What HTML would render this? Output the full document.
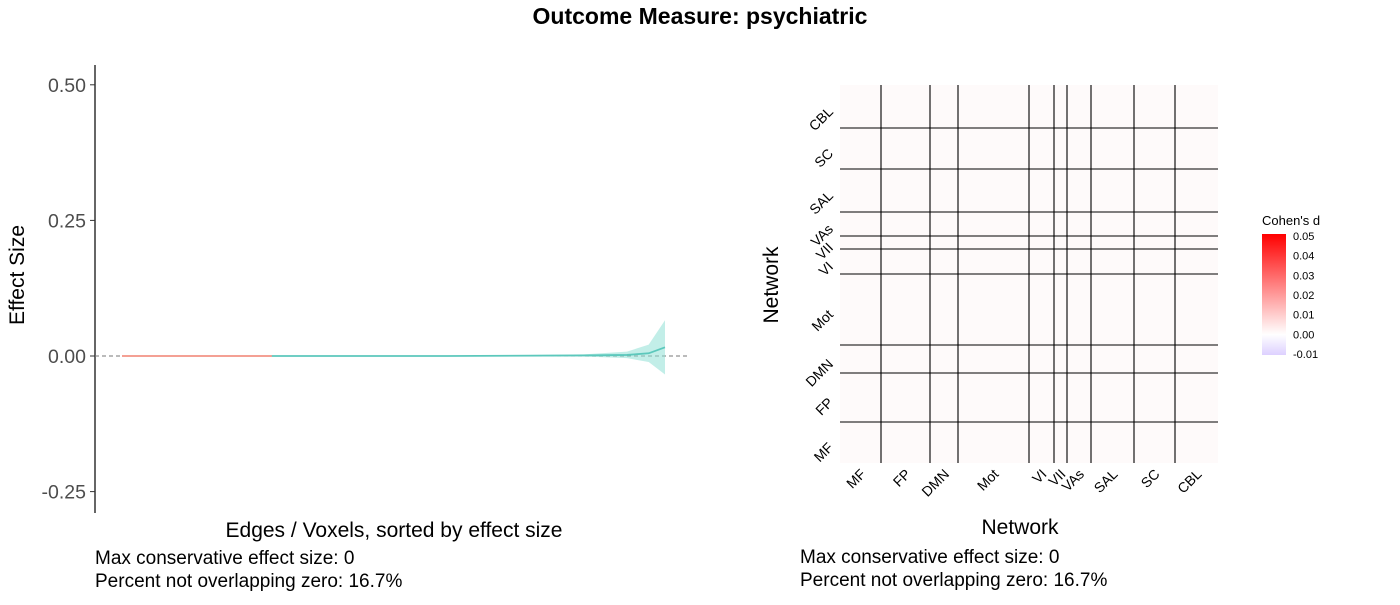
<!DOCTYPE html>
<html><head><meta charset="utf-8"><style>
body{margin:0;background:#fff;width:1400px;height:600px;overflow:hidden;font-family:"Liberation Sans",sans-serif}
svg text{font-family:"Liberation Sans",sans-serif}
</style></head><body>
<svg id="c" width="1400" height="600">
<text x="700" y="24" text-anchor="middle" font-size="23" font-weight="bold">Outcome Measure: psychiatric</text>
<g id="left"></g>
<g id="right"></g>
</svg>
<script>
// ---- left plot data ----
const yTicks=[0.5,0.25,0,-0.25];
const yTickLabels=["0.50","0.25","0.00","-0.25"];
const redFrac=[0,0.276];
const curveX=[0.276,0.6,0.85,0.93,0.97,1.0];
const curveY=[0,0,0.001,0.002,0.005,0.016];
const ciHalf=[0,0,0.002,0.006,0.016,0.05];
// ---- heatmap data ----
const networks=["MF","FP","DMN","Mot","VI","VII","VAs","SAL","SC","CBL"];
const netSizes=[41,49,28,71,25,13,24,43,41,43];
const legendTicks=[0.05,0.04,0.03,0.02,0.01,0.00,-0.01];

(function(){
const NS="http://www.w3.org/2000/svg";
function mk(p,t,a,txt){const e=document.createElementNS(NS,t);for(const k in a)e.setAttribute(k,a[k]);if(txt!==undefined)e.textContent=txt;p.appendChild(e);return e;}
const L=document.getElementById('left');
const yS=v=>356-v*542.4;
const x0=95,x1=690,e0=122,e1=665;
const ex=f=>e0+f*(e1-e0);
let ax=mk(L,'line',{x1:95,y1:65,x2:95,y2:513,stroke:'#000','stroke-width':1.2});


yTicks.forEach((t,i)=>{
 let l=mk(L,'line',{x1:90,x2:95,y1:yS(t),y2:yS(t),stroke:'#333'});
 
 
 let tx=mk(L,'text',{x:86,y:yS(t)+7,'text-anchor':'end','font-size':19.5,fill:'#4d4d4d'},yTickLabels[i]);
 
 
});
let zl=mk(L,'line',{x1:x0,x2:x1,y1:yS(0),y2:yS(0),stroke:'#777','stroke-dasharray':'4,3'});


let upper=curveX.map((f,i)=>ex(f)+','+yS(curveY[i]+ciHalf[i])).join(' ');
let lower=curveX.slice().reverse().map((f,j)=>{const i=curveX.length-1-j;return ex(f)+','+yS(curveY[i]-ciHalf[i]);}).join(' ');
let rb=mk(L,'polygon',{points:upper+' '+lower,fill:'#8fe0d6','fill-opacity':0.55});


let rl=mk(L,'line',{x1:ex(redFrac[0]),x2:ex(redFrac[1]),y1:yS(0),y2:yS(0),stroke:'#f08070','stroke-width':1.5});


let cl=mk(L,'polyline',{points:curveX.map((f,i)=>ex(f)+','+yS(curveY[i])).join(' '),fill:'none',stroke:'#5cc8bc','stroke-width':1.8});


let yt=mk(L,'text',{x:24,y:275,'text-anchor':'middle','font-size':21,transform:'rotate(-90 24 275)'},'Effect Size');


let xt=mk(L,'text',{x:394,y:537,'text-anchor':'middle','font-size':21},'Edges / Voxels, sorted by effect size');


let n1=mk(L,'text',{x:95,y:564,'font-size':19},'Max conservative effect size: 0');


let n2=mk(L,'text',{x:95,y:587,'font-size':19},'Percent not overlapping zero: 16.7%');



const R=document.getElementById('right');
const hx=840,hy=85,hs=378;
const total=netSizes.reduce((a,b)=>a+b,0);
const cum=[0];netSizes.forEach(s=>cum.push(cum[cum.length-1]+s));
const px=v=>hx+v/total*hs, py=v=>hy+hs-v/total*hs;
let bg=mk(R,'rect',{x:hx,y:hy,width:hs,height:hs,fill:'#fefafa'});


for(let i=1;i<networks.length;i++){
 let v=mk(R,'line',{x1:px(cum[i]),x2:px(cum[i]),y1:hy,y2:hy+hs,stroke:'#000','stroke-width':1.1});
 
 
 let h=mk(R,'line',{x1:hx,x2:hx+hs,y1:py(cum[i]),y2:py(cum[i]),stroke:'#000','stroke-width':1.1});
 
 
}
networks.forEach((n,i)=>{
 const cx=px((cum[i]+cum[i+1])/2), cy=py((cum[i]+cum[i+1])/2);
 let a=mk(R,'text',{x:cx+6,y:475,'text-anchor':'end','font-size':14,transform:`rotate(-45 ${cx+6} 475)`},n);
 
 
 let b=mk(R,'text',{x:834,y:cy+6,'text-anchor':'end','font-size':14,transform:`rotate(-45 834 ${cy+6})`},n);
 
 
});
let hxt=mk(R,'text',{x:1020,y:534,'text-anchor':'middle','font-size':21},'Network');


let hyt=mk(R,'text',{x:778,y:285,'text-anchor':'middle','font-size':21,transform:'rotate(-90 778 285)'},'Network');


let m1=mk(R,'text',{x:800,y:563,'font-size':19},'Max conservative effect size: 0');


let m2=mk(R,'text',{x:800,y:586,'font-size':19},'Percent not overlapping zero: 16.7%');


const defs=mk(R,'defs',{});
const g=mk(defs,'linearGradient',{id:'lg',x1:0,y1:0,x2:0,y2:1});
mk(g,'stop',{offset:'0','stop-color':'#ff0000'});
mk(g,'stop',{offset:'0.83','stop-color':'#ffffff'});
mk(g,'stop',{offset:'1','stop-color':'#ddd0ff'});
const ly=v=>236+(0.05-v)/0.06*118;
let lt=mk(R,'text',{x:1262,y:225,'font-size':13},"Cohen's d");


let lb=mk(R,'rect',{x:1262,y:234,width:24,height:121,fill:'url(#lg)'});


legendTicks.forEach(t=>{
 let tx=mk(R,'text',{x:1293,y:ly(t)+4,'font-size':11},t.toFixed(2));
 
 
});
})();
</script>
</body></html>
